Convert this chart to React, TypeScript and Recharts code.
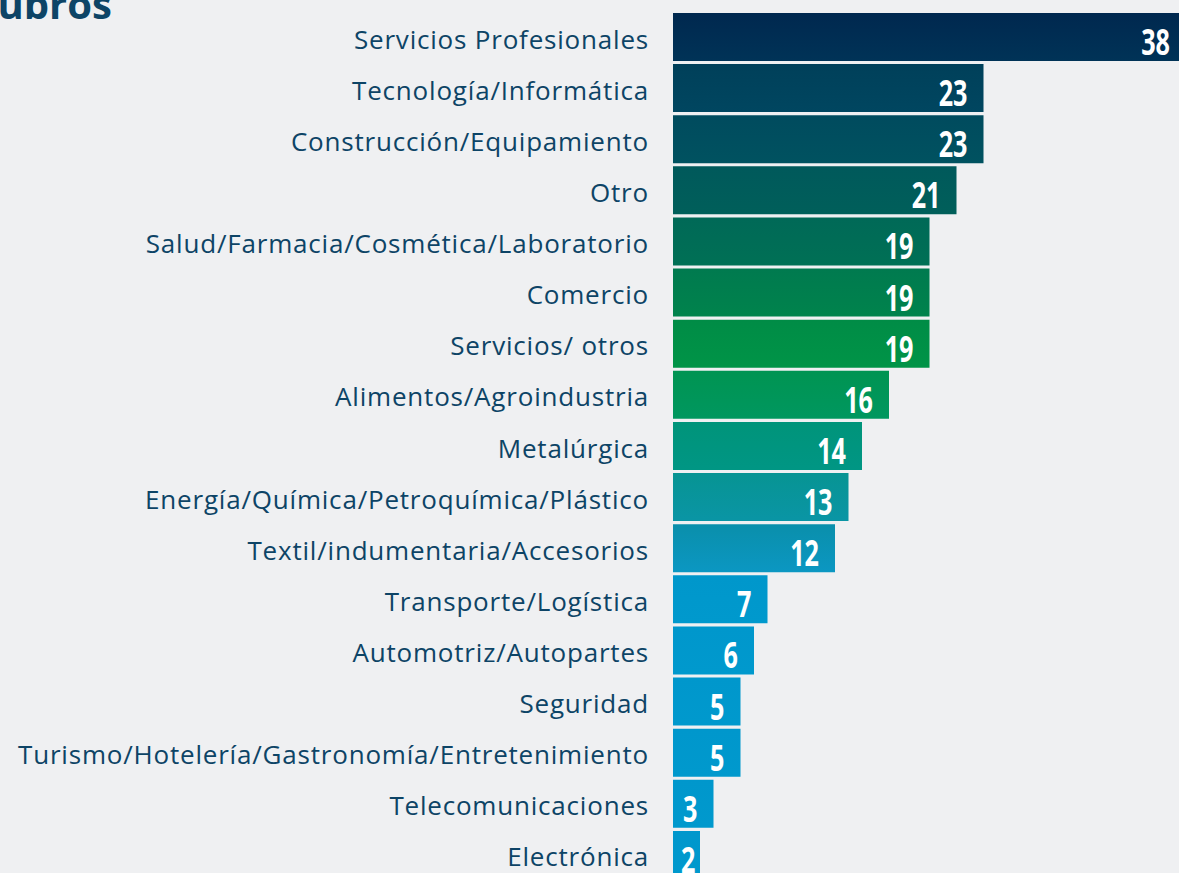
import { BarChart, Bar, XAxis, YAxis, Cell, LabelList } from "recharts"

const RUBROS = [
  "Servicios Profesionales",
  "Tecnología/Informática",
  "Construcción/Equipamiento",
  "Otro",
  "Salud/Farmacia/Cosmética/Laboratorio",
  "Comercio",
  "Servicios/ otros",
  "Alimentos/Agroindustria",
  "Metalúrgica",
  "Energía/Química/Petroquímica/Plástico",
  "Textil/indumentaria/Accesorios",
  "Transporte/Logística",
  "Automotriz/Autopartes",
  "Seguridad",
  "Turismo/Hotelería/Gastronomía/Entretenimiento",
  "Telecomunicaciones",
  "Electrónica",
]

const CANTIDAD = [38, 23, 23, 21, 19, 19, 19, 16, 14, 13, 12, 7, 6, 5, 5, 3, 2]

// top / bottom colour of each bar
const TOP_COLORS = [
  "#00284f", "#00405a", "#004b5e", "#00595b", "#006957", "#007a4f", "#008c46", "#009452",
  "#00947a", "#079493", "#0a8fab", "#0097cb", "#0097cc", "#0097cc", "#0097cc", "#0097cc", "#0097cc",
]
const BOTTOM_COLORS = [
  "#003357", "#004660", "#005260", "#005f5a", "#007055", "#00834c", "#009447", "#00975f",
  "#009684", "#0a95a5", "#0b97c2", "#0099cd", "#0099cd", "#0099cd", "#0099cd", "#0099cd", "#0099cd",
]

const data = RUBROS.map((name, i) => ({ name, value: CANTIDAD[i] }))

const TEXT_COLOR = "#0d4466"

function CategoryTick(props: any) {
  const { x, y, payload } = props
  return (
    <text
      x={x}
      y={y}
      dy={12}
      textAnchor="end"
      fill={TEXT_COLOR}
      fontSize={26}
      letterSpacing={0.8}
      fontFamily="Open Sans"
    >
      {payload.value}
    </text>
  )
}

function ValueLabel(props: any) {
  const { x, y, width, height, value } = props
  const textW = String(value).length * 15.5
  const endX = Math.max(x + width - 16, x + 7 + textW)
  const cy = y + height / 2 + 18
  return (
    <g transform={`translate(${endX},${cy}) scale(0.7,1)`}>
      <text x={0} y={0} textAnchor="end" fill="#ffffff" fontSize={36} fontWeight={700} fontFamily="Open Sans">
        {value}
      </text>
    </g>
  )
}

export default function App() {
  return (
    <div
      style={{
        position: "fixed",
        left: 0,
        top: 0,
        width: 1179,
        height: 873,
        overflow: "hidden",
        background: "#eff0f2",
      }}
    >
      <div
        style={{
          position: "absolute",
          left: -29,
          top: -23,
          fontFamily: "Open Sans",
          fontWeight: 700,
          fontSize: 40,
          color: TEXT_COLOR,
          lineHeight: "54px",
        }}
      >
        Rubros
      </div>
      <div style={{ position: "absolute", left: 0, top: 0 }}>
        <BarChart
          width={1213}
          height={880}
          data={data}
          layout="vertical"
          margin={{ top: 11, right: 0, bottom: 0, left: 0 }}
        >
          <defs>
            {TOP_COLORS.map((c, i) => (
              <linearGradient key={i} id={`grad${i}`} x1="0" y1="0" x2="0" y2="1">
                <stop offset="0%" stopColor={c} />
                <stop offset="100%" stopColor={BOTTOM_COLORS[i]} />
              </linearGradient>
            ))}
          </defs>
          <XAxis type="number" domain={[0, 40]} hide />
          <YAxis
            type="category"
            dataKey="name"
            width={673}
            axisLine={false}
            tickLine={false}
            tickSize={0}
            tickMargin={24}
            interval={0}
            tick={<CategoryTick />}
          />
          <Bar dataKey="value" barSize={48} isAnimationActive={false}>
            {data.map((_, i) => (
              <Cell key={`cell-${i}`} fill={`url(#grad${i})`} />
            ))}
            <LabelList dataKey="value" content={<ValueLabel />} />
          </Bar>
        </BarChart>
      </div>
    </div>
  )
}
